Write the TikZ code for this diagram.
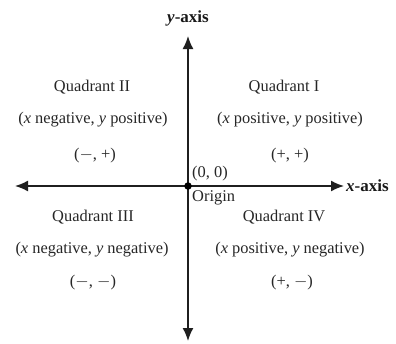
\documentclass[tikz,border=0pt]{standalone}
\usepackage{fontspec}
\setmainfont{Liberation Serif}
\usetikzlibrary{arrows.meta}
\begin{document}
\begin{tikzpicture}[x=1pt,y=-1pt,
  axis/.style={line width=1.6pt,draw=black!88,{Latex[length=13pt,width=11pt]}-{Latex[length=13pt,width=11pt]}},
  lbl/.style={font=\fontsize{16.4}{19}\selectfont,text=black!85,inner sep=0pt},
  axlbl/.style={font=\fontsize{17}{20}\selectfont\bfseries,text=black!90,inner sep=0pt}]
\useasboundingbox (0,0) rectangle (396,343);
\coordinate (top) at (188,36);
\coordinate (bot) at (188,341);
\coordinate (lft) at (15,186);
\coordinate (rgt) at (344,186);
\draw[axis] (bot) -- (top);
\draw[axis] (lft) -- (rgt);
\node[circle,fill=black,inner sep=0pt,minimum size=7.5pt] (O) at (188,186) {};
\node[axlbl] (ylab) at (188,18) {\textit{y}-axis};
\node[axlbl,anchor=west] (xlab) at (346,186) {\textit{x}-axis};
\node[lbl,anchor=south west] (oo) at (192,181) {(0, 0)};
\node[lbl,anchor=north west] (orig) at (192,190) {Origin};
% Quadrant II
\node[lbl] (q2a) at (92,87) {Quadrant II};
\node[lbl] (q2b) at (93,120) {(\textit{x} negative, \textit{y} positive)};
\node[lbl] (q2c) at (95,156) {($-$, +)};
% Quadrant I
\node[lbl] (q1a) at (284,87) {Quadrant I};
\node[lbl] (q1b) at (290,120) {(\textit{x} positive, \textit{y} positive)};
\node[lbl] (q1c) at (290,156) {(+, +)};
% Quadrant III
\node[lbl] (q3a) at (93,217) {Quadrant III};
\node[lbl] (q3b) at (92,250) {(\textit{x} negative, \textit{y} negative)};
\node[lbl] (q3c) at (93,283) {($-$, $-$)};
% Quadrant IV
\node[lbl] (q4a) at (284,217) {Quadrant IV};
\node[lbl] (q4b) at (290,250) {(\textit{x} positive, \textit{y} negative)};
\node[lbl] (q4c) at (292,283) {(+, $-$)};
\end{tikzpicture}
\end{document}
